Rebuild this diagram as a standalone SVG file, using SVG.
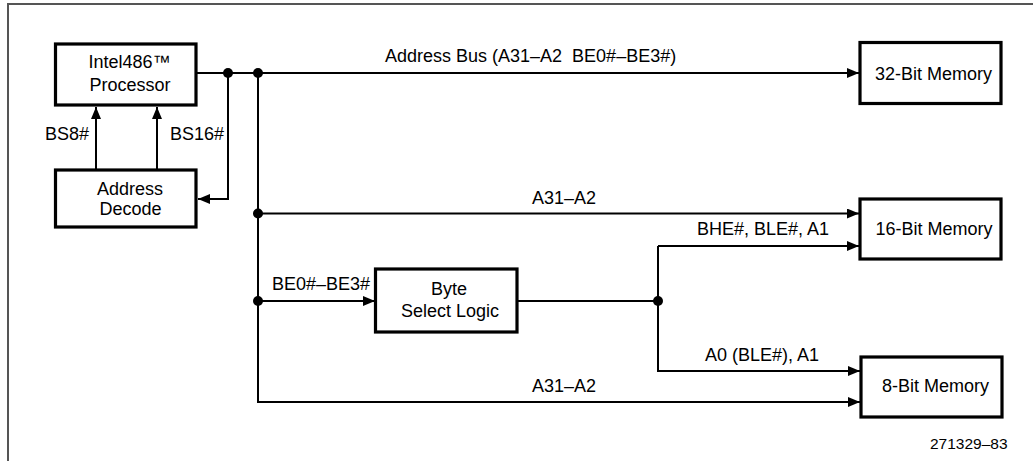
<svg xmlns="http://www.w3.org/2000/svg" width="1033" height="461" viewBox="0 0 1033 461">
<style>
text{font-family:"Liberation Sans",Arial,sans-serif;font-size:18px;fill:#000}
.box{fill:#fff;stroke:#000;stroke-width:3.2}
.c{text-anchor:middle}
.w{fill:none;stroke:#000;stroke-width:2}
.a{marker-end:url(#arr)}
.frame{fill:none;stroke:#555;stroke-width:2}
</style>
<defs>
<marker id="arr" viewBox="0 0 12 10" refX="12" refY="5" markerUnits="userSpaceOnUse" markerWidth="12" markerHeight="10" orient="auto">
<path d="M0,0 L12,5 L0,10 z" fill="#000"/>
</marker>
</defs>
<path class="frame" d="M8,461 V4 H1033"/>
<g id="connectors">
<path class="w a" d="M196,73 H859"/>
<path class="w a" d="M228,73 V199 H198"/>
<path class="w a" d="M258,73 V402 H860"/>
<path class="w a" d="M258,213.5 H859"/>
<path class="w a" d="M258,301 H375"/>
<path class="w" d="M517,301 H658"/>
<path class="w a" d="M658,246 V371 H860"/>
<path class="w a" d="M658,246 H859"/>
<path class="w a" d="M96,170 V107"/>
<path class="w a" d="M157,170 V107"/>
<circle cx="228" cy="73" r="5"/>
<circle cx="258" cy="73" r="5"/>
<circle cx="258" cy="213.5" r="5"/>
<circle cx="258" cy="301" r="5"/>
<circle cx="658" cy="301" r="5"/>
<text x="45" y="140">BS8#</text>
<text x="170" y="140">BS16#</text>
<text x="385" y="62">Address Bus (A31–A2&#160; BE0#–BE3#)</text>
<text x="532" y="204">A31–A2</text>
<text x="532" y="392">A31–A2</text>
<text x="272" y="290">BE0#–BE3#</text>
<text x="697" y="235">BHE#, BLE#, A1</text>
<text x="705" y="361">A0 (BLE#), A1</text>
</g>
<g id="processor">
<rect class="box" x="55.5" y="44" width="140.5" height="61"/>
<text class="c" x="129.5" y="68">Intel486™</text>
<text class="c" x="130" y="90.5">Processor</text>
</g>
<g id="decode">
<rect class="box" x="55.5" y="170" width="140.5" height="57"/>
<text class="c" x="130" y="195">Address</text>
<text class="c" x="130.5" y="215">Decode</text>
</g>
<g id="byteselect">
<rect class="box" x="375.5" y="269" width="141.5" height="63"/>
<text class="c" x="449" y="295">Byte</text>
<text class="c" x="450" y="316.5">Select Logic</text>
</g>
<g id="mem32">
<rect class="box" x="860" y="42.5" width="141" height="61"/>
<text class="c" x="933.5" y="80">32-Bit Memory</text>
</g>
<g id="mem16">
<rect class="box" x="860" y="199" width="141" height="60"/>
<text class="c" x="934" y="235">16-Bit Memory</text>
</g>
<g id="mem8">
<rect class="box" x="861" y="357" width="141" height="60"/>
<text class="c" x="935.5" y="392">8-Bit Memory</text>
</g>
<text x="930" y="449" style="font-size:15.5px">271329–83</text>
</svg>
